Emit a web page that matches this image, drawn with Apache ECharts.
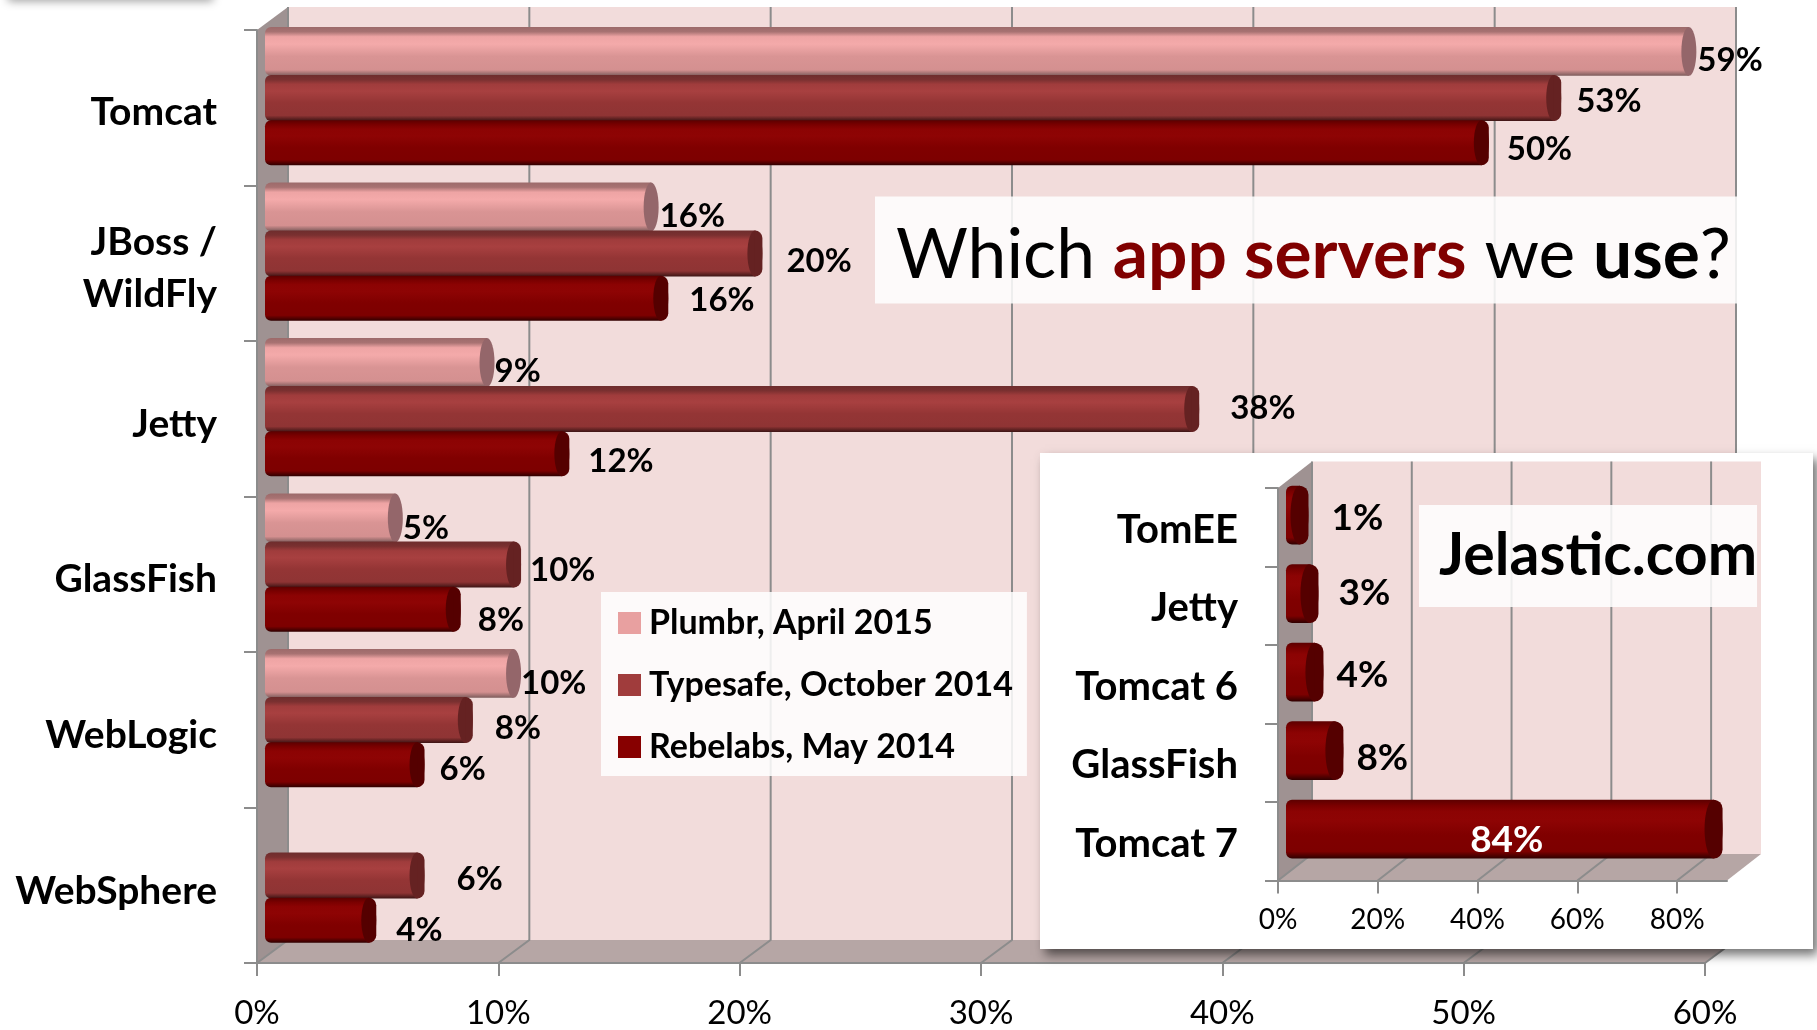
<!DOCTYPE html>
<html>
<head>
<meta charset="utf-8" />
<title>Which app servers we use?</title>
<style>
html,body{margin:0;padding:0;background:#fff;}
#chart{width:1817px;height:1030px;}
</style>
<script src="https://cdn.jsdelivr.net/npm/echarts@6/dist/echarts.min.js"></script>
</head>
<body>
<div id="chart"></div>
<script>
var servers = ['Tomcat', 'JBoss /\nWildFly', 'Jetty', 'GlassFish', 'WebLogic', 'WebSphere'];
var plumbr = [59.0, 16.0, 9.2, 5.4, 10.3, null];
var typesafe = [53.4, 20.3, 38.4, 10.3, 8.3, 6.3];
var rebelabs = [50.4, 16.4, 12.3, 7.8, 6.3, 4.3];
var serverTicks = [0, 10, 20, 30, 40, 50, 60];

var jelasticServers = ['TomEE', 'Jetty', 'Tomcat 6', 'GlassFish', 'Tomcat 7'];
var jelastic = [1, 3, 4, 8, 84];
var jelasticTicks = [0, 20, 40, 60, 80];

// where each number sits next to its bar, by hand from the picture: [gap, drop]
var plumbrNudge = [[1, 2], [1, 2], [0, 2], [0, 3], [0, 3]];
var typesafeNudge = [[15, 1], [24, 6], [31, -3], [9, 4], [22, 6], [32, 2]];
var rebelabsNudge = [[18, 2], [21, -3], [19, 3], [17, 6], [15, 0], [20, 5]];
var jelasticNudge = [[23, 0], [20, -4], [13, 0], [13, 4], [0, 8]];

var FONT = 'Lato, "Open Sans", sans-serif';

var looks = {
    plumbr: {
        from: -0.02, to: 0.295, cap: '#94666a', rx: 7.5, ellipse: true, start: 8, shift: 8, dy: 7, font: 'bold 33px ' + FONT,
        stops: ['#9c6a6a', '#a87272', '#eea4a4', '#f4aaaa', '#d99494', '#d49090', '#7a5a5a']
    },
    typesafe: {
        from: 0.29, to: 0.585, cap: '#652222', rx: 7.5, start: 8, shift: 8, dy: 2, font: 'bold 33px ' + FONT,
        stops: ['#6e2d2d', '#7a3030', '#a03c3c', '#a84040', '#943535', '#8f3434', '#3d1515']
    },
    rebelabs: {
        from: 0.58, to: 0.87, cap: '#550000', rx: 7.5, start: 8, shift: 8, dy: 5, font: 'bold 33px ' + FONT,
        stops: ['#5c0000', '#7a0000', '#8c0303', '#8e0404', '#800000', '#7d0000', '#2f0000']
    },
    jelastic: {
        from: -0.03, to: 0.72, cap: '#550000', rx: 9, start: 8, shift: 16.5, dy: 3, font: 'bold 37px ' + FONT,
        stops: ['#5c0000', '#7a0000', '#8c0303', '#8e0404', '#800000', '#7d0000', '#2f0000']
    }
};

function cylinderGradient(stops) {
    var offsets = [0, 0.1, 0.2, 0.35, 0.6, 0.88, 1];
    return new echarts.graphic.LinearGradient(0, 0, 0, 1, stops.map(function (c, i) {
        return { offset: offsets[i], color: c };
    }));
}

function renderCylinder(look, nudge) {
    return function (params, api) {
        var val = api.value(0), cat = api.value(1);
        var p0 = api.coord([0, cat]), p = api.coord([val, cat]);
        var band = api.size([0, 1])[1];
        var top = p0[1] - band / 2 + band * look.from;
        var h = band * (look.to - look.from);
        var x0 = p0[0] + look.start, xc = p[0] + look.shift;
        var n = nudge[params.dataIndex];
        var children = [{
            type: 'rect',
            shape: { x: x0, y: top, width: xc - x0, height: h, r: [6, 0, 0, 6] },
            style: { fill: cylinderGradient(look.stops) }
        }, {
            type: 'ellipse',
            shape: { cx: xc, cy: top + h / 2, rx: look.rx, ry: h / 2 },
            style: { fill: look.cap }
        }];
        if (!look.ellipse) {
            children.push({
                type: 'rect',
                shape: { x: xc, y: top, width: look.rx, height: h, r: [0, look.rx, look.rx, 0] },
                style: { fill: look.cap }
            });
        }
        var inside = Math.round(val) > 50 && look === looks.jelastic;
        children.push({
            type: 'text',
            style: {
                text: Math.round(val) + '%',
                x: inside ? (x0 + xc) / 2 + 7 : xc + look.rx + n[0],
                y: top + h / 2 + look.dy + n[1],
                align: inside ? 'center' : 'left',
                verticalAlign: 'middle',
                fill: inside ? '#fff' : '#000',
                font: look.font
            }
        });
        return { type: 'group', children: children };
    };
}

function renderFrame(ticks, dx, dy) {
    return function (params, api) {
        var g = params.coordSys;
        var xr = g.x + g.width, yb = g.y + g.height;
        var kids = [{
            type: 'rect',
            shape: { x: g.x + dx, y: g.y - dy, width: g.width, height: g.height },
            style: { fill: '#f2dcdb' }
        }, {
            type: 'polygon',
            shape: { points: [[g.x, g.y], [g.x + dx, g.y - dy], [g.x + dx, yb - dy], [g.x, yb]] },
            style: { fill: '#9f9292' }
        }, {
            type: 'polygon',
            shape: { points: [[g.x, yb], [g.x + dx, yb - dy], [xr + dx, yb - dy], [xr, yb]] },
            style: { fill: '#b6a6a5' }
        }];
        ticks.forEach(function (t) {
            var x = api.coord([t, 0])[0];
            kids.push({
                type: 'polyline',
                shape: { points: [[x, yb], [x + dx, yb - dy], [x + dx, g.y - dy]] },
                style: { fill: 'none', stroke: '#8c8c8c', lineWidth: 2 }
            });
        });
        return { type: 'group', children: kids };
    };
}

function rows(values) {
    var out = [];
    values.forEach(function (v, i) {
        if (v !== null) out.push([v, i]);
    });
    return out;
}

function cylinderSeries(name, values, look, nudge, color, axis, z) {
    return {
        name: name,
        type: 'custom',
        xAxisIndex: axis,
        yAxisIndex: axis,
        z: z,
        itemStyle: { color: color },
        encode: { x: 0, y: 1 },
        data: rows(values),
        renderItem: renderCylinder(look, nudge)
    };
}

function xAxisFor(index, max, interval, ticks, size, margin, z) {
    return {
        type: 'value',
        gridIndex: index,
        min: 0,
        max: max,
        interval: interval,
        z: z,
        splitLine: { show: false },
        axisLine: { show: true, lineStyle: { color: '#8c8c8c', width: 2 } },
        axisTick: { show: true, length: 13, customValues: ticks, lineStyle: { color: '#8c8c8c', width: 2 } },
        axisLabel: {
            customValues: ticks,
            formatter: '{value}%',
            color: '#000',
            fontFamily: FONT,
            fontSize: size,
            margin: margin
        }
    };
}

function yAxisFor(index, cats, z) {
    return {
        type: 'category',
        gridIndex: index,
        data: cats,
        inverse: true,
        z: z,
        axisLine: { show: true, lineStyle: { color: '#8c8c8c', width: 2 } },
        axisTick: { show: true, length: 13, lineStyle: { color: '#8c8c8c', width: 2 } },
        axisLabel: { show: false }
    };
}

// the names sit a little under the band centre, so they hang on their own shifted grid
function nameAxisFor(index, cats, size, z) {
    return {
        type: 'category',
        gridIndex: index,
        data: cats,
        inverse: true,
        z: z,
        axisLine: { show: false },
        axisTick: { show: false },
        axisLabel: {
            color: '#000',
            fontFamily: FONT,
            fontWeight: 'bold',
            fontSize: size,
            lineHeight: 52,
            margin: 40
        }
    };
}

var option = {
    animation: false,
    backgroundColor: '#fff',
    title: [{
        left: 875,
        top: 190,
        z: 6,
        padding: [24, 9, 13, 21],
        backgroundColor: 'rgba(255,255,255,0.85)',
        text: '{n|Which }{r|app servers}{n| we }{b|use}{n|?}',
        textStyle: {
            rich: {
                n: { fontFamily: FONT, fontSize: 69.5, fontWeight: 'normal', color: '#000', lineHeight: 83 },
                r: { fontFamily: FONT, fontSize: 69.5, fontWeight: 'bold', color: '#800000', lineHeight: 83 },
                b: { fontFamily: FONT, fontSize: 69.5, fontWeight: 'bold', color: '#000', lineHeight: 83 }
            }
        }
    }, {
        left: 1419,
        top: 505,
        z: 16,
        padding: [20, 0, 20, 20],
        backgroundColor: 'rgba(255,255,255,0.85)',
        text: 'Jelastic.com',
        textStyle: { fontFamily: FONT, fontSize: 59, fontWeight: 'bold', color: '#000', lineHeight: 62 }
    }],
    legend: {
        left: 601,
        top: 592,
        z: 6,
        orient: 'vertical',
        data: ['Plumbr, April 2015', 'Typesafe, October 2014', 'Rebelabs, May 2014'],
        icon: 'rect',
        selectedMode: false,
        itemWidth: 23,
        itemHeight: 22,
        itemGap: 28,
        padding: [14, 14, 12, 17],
        backgroundColor: 'rgba(255,255,255,0.85)',
        textStyle: { fontFamily: FONT, fontSize: 34, fontWeight: 'bold', color: '#000', padding: [0, 0, 0, 3] }
    },
    grid: [
        { left: 257, top: 30, width: 1448, height: 934 },
        { left: 1278, top: 488, width: 449, height: 392.5 },
        { left: 257, top: 35, width: 1448, height: 934 },
        { left: 1278, top: 490.5, width: 449, height: 392.5 }
    ],
    xAxis: [
        xAxisFor(0, 60, 10, serverTicks, 33, 34, 2),
        xAxisFor(1, 90, 10, jelasticTicks, 28, 25, 12),
        { type: 'value', gridIndex: 2, show: false },
        { type: 'value', gridIndex: 3, show: false }
    ],
    yAxis: [
        yAxisFor(0, servers, 2),
        yAxisFor(1, jelasticServers, 12),
        nameAxisFor(2, servers, 39, 2),
        nameAxisFor(3, jelasticServers, 40, 12)
    ],
    graphic: [{
        type: 'rect',
        z: 10,
        shape: { x: 1040, y: 453, width: 773, height: 496 },
        style: { fill: '#fff', shadowBlur: 10, shadowOffsetX: 5, shadowOffsetY: 6, shadowColor: 'rgba(0,0,0,0.55)' }
    }, {
        // smudge of the slide above, top left corner
        type: 'rect',
        z: 0,
        shape: { x: 8, y: -10, width: 205, height: 10 },
        style: { fill: '#bbb', shadowBlur: 10, shadowOffsetY: 1, shadowColor: 'rgba(0,0,0,0.4)' }
    }],
    series: [
        {
            type: 'custom', xAxisIndex: 0, yAxisIndex: 0, z: 1, silent: true,
            data: [[0, 0]], encode: { x: 0, y: 1 },
            renderItem: renderFrame(serverTicks, 31, 23)
        },
        cylinderSeries('Plumbr, April 2015', plumbr, looks.plumbr, plumbrNudge, '#e8a0a0', 0, 3),
        cylinderSeries('Typesafe, October 2014', typesafe, looks.typesafe, typesafeNudge, '#a03c3c', 0, 3),
        cylinderSeries('Rebelabs, May 2014', rebelabs, looks.rebelabs, rebelabsNudge, '#870000', 0, 3),
        {
            type: 'custom', xAxisIndex: 1, yAxisIndex: 1, z: 11, silent: true,
            data: [[0, 0]], encode: { x: 0, y: 1 },
            renderItem: renderFrame(jelasticTicks, 34, 26.5)
        },
        cylinderSeries('Jelastic', jelastic, looks.jelastic, jelasticNudge, '#870000', 1, 13)
    ]
};

var myChart = echarts.init(document.getElementById('chart'));
myChart.setOption(option);
</script>
</body>
</html>
